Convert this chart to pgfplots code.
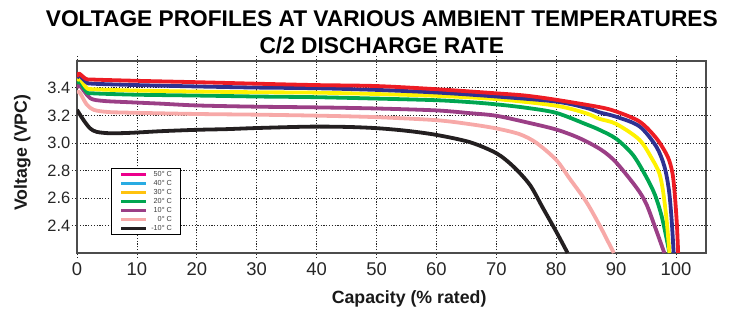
\documentclass[border=0pt]{standalone}
\usepackage{fontspec}
\setmainfont{Liberation Sans}
\usepackage{pgfplots}
\pgfplotsset{compat=1.18}
\definecolor{cRed}{HTML}{ED1C24}
\definecolor{cNavy}{HTML}{2E3192}
\definecolor{cYel}{HTML}{FFF200}
\definecolor{cGreen}{HTML}{00A651}
\definecolor{cPurp}{HTML}{9B3F86}
\definecolor{cPink}{HTML}{F7A9A8}
\definecolor{cBlack}{HTML}{231F20}
\definecolor{lMag}{HTML}{EC008C}
\definecolor{lCyan}{HTML}{29ABE2}
\definecolor{lYel}{HTML}{FFC20E}
\begin{document}
\begin{tikzpicture}
\useasboundingbox (-77bp,-57bp) rectangle (671bp,253bp);
\begin{axis}[
  width=629bp, height=192bp, scale only axis,
  xmin=0, xmax=105, ymin=2.2, ymax=3.595,
  xtick={0,10,20,30,40,50,60,70,80,90,100},
  ytick={2.4,2.6,2.8,3.0,3.2,3.4},
  grid=major,
  grid style={black!85, line width=0.7bp, dash pattern=on 1.2bp off 1.6bp},
  tick align=outside, major tick length=5bp,
  tick style={black!85, line width=0.7bp, dash pattern=on 1.2bp off 1.6bp},
  axis line style={black!70, line width=1.1bp},
  /pgf/number format/assume math mode=true,
  yticklabel style={font=\fontsize{16.5}{18}\selectfont, text=black!85, /pgf/number format/fixed, /pgf/number format/fixed zerofill, /pgf/number format/precision=1, /tikz/inner sep=1.5bp},
  xticklabel style={font=\fontsize{18.5}{20}\selectfont, text=black!85, /tikz/inner sep=1.5bp, /tikz/yshift=-2.5bp},
  xlabel={\textbf{Capacity (\% rated)}},
  ylabel={\textbf{Voltage (VPC)}},
  label style={font=\fontsize{17.8}{19}\selectfont, text=black!90},
  xlabel style={at={(axis description cs:0.528,-0.24)}, anchor=center},
  ylabel style={at={(axis description cs:-0.087,0.523)}, anchor=center},
  legend style={at={(0.0545,0.443)}, anchor=north west, draw=black, line width=0.8bp,
    font=\fontsize{7.3}{8}\selectfont, text=black!75,
    inner xsep=8bp, inner ysep=2bp, row sep=1.2bp, column sep=3bp,
    nodes={inner sep=0.8bp, text height=5bp, text depth=1.3bp}},
  legend cell align=right,
  legend image code/.code={\draw[#1] (0bp,0bp) -- (25bp,0bp);},
]
\addlegendimage{lMag, line width=2.8bp}\addlegendentry{50° C}
\addlegendimage{lCyan, line width=2.8bp}\addlegendentry{40° C}
\addlegendimage{lYel, line width=2.8bp}\addlegendentry{30° C}
\addlegendimage{cGreen, line width=2.8bp}\addlegendentry{20° C}
\addlegendimage{cPurp, line width=2.8bp}\addlegendentry{10° C}
\addlegendimage{cPink, line width=2.8bp}\addlegendentry{0° C}
\addlegendimage{cBlack, line width=2.8bp}\addlegendentry{-10° C}
% -10 C
\addplot[cBlack, forget plot, line width=3.8bp, line join=round, smooth, tension=0.5] coordinates {(0,3.24) (1.1,3.165) (2.2,3.105) (3.3,3.08) (5.5,3.07) (8.9,3.073) (14,3.085) (20,3.095) (25,3.10) (30,3.108) (38.9,3.118) (45,3.116) (50,3.107) (55,3.088) (60,3.058) (65.6,3.005) (70,2.925) (72.8,2.83) (75.6,2.695) (77.8,2.525) (80,2.355) (81.9,2.2)};
% 0 C
\addplot[cPink, forget plot, line width=3.8bp, line join=round, smooth, tension=0.5] coordinates {(0,3.36) (0.4,3.37) (1.6,3.28) (2.8,3.24) (5,3.225) (8.3,3.22) (20,3.21) (30,3.205) (40,3.198) (50,3.187) (60,3.165) (65.6,3.136) (70,3.105) (73.9,3.063) (76.7,3.0) (80,2.876) (82.2,2.743) (85,2.573) (87.5,2.38) (89.6,2.2)};
% 10 C
\addplot[cPurp, forget plot, line width=3.8bp, line join=round, smooth, tension=0.5] coordinates {(0,3.40) (0.5,3.415) (2.2,3.325) (4.4,3.305) (8.9,3.295) (14,3.285) (20,3.272) (30,3.263) (40,3.258) (50,3.25) (60,3.236) (65.6,3.216) (70,3.197) (75,3.15) (80,3.097) (83.9,3.034) (87.5,2.95) (90,2.858) (93.4,2.675) (95,2.56) (96.4,2.4) (98.05,2.2)};
% 20 C
\addplot[cGreen, forget plot, line width=3.8bp, line join=round, smooth, tension=0.5] coordinates {(0,3.43) (0.4,3.45) (1.6,3.37) (2.7,3.36) (10,3.35) (20,3.344) (30,3.337) (40,3.332) (50,3.322) (60,3.31) (65.6,3.296) (70,3.28) (75,3.255) (80,3.218) (85,3.135) (87.2,3.095) (90,3.03) (92.8,2.913) (95,2.755) (96.5,2.62) (97.7,2.45) (98.9,2.2)};
% 30 C
\addplot[cYel, forget plot, line width=3.8bp, line join=round, smooth, tension=0.5] coordinates {(0,3.45) (0.4,3.47) (1.6,3.40) (2.7,3.39) (10,3.38) (20,3.373) (30,3.368) (40,3.365) (50,3.355) (60,3.342) (70,3.318) (80,3.27) (85,3.215) (87.2,3.175) (90,3.138) (93.9,3.022) (96.1,2.876) (97.2,2.78) (97.8,2.658) (98.4,2.45) (98.9,2.2)};
% 40 C
\addplot[cNavy, forget plot, line width=3.8bp, line join=round, smooth, tension=0.5] coordinates {(0,3.47) (0.4,3.49) (1.6,3.44) (2.7,3.43) (10,3.42) (20,3.41) (30,3.402) (40,3.397) (50,3.385) (60,3.366) (70,3.337) (80,3.30) (85,3.255) (87.2,3.222) (90,3.19) (93.9,3.12) (96.7,2.973) (98.05,2.83) (98.8,2.66) (99.25,2.45) (99.6,2.2)};
% 50 C
\addplot[cRed, forget plot, line width=3.8bp, line join=round, smooth, tension=0.5] coordinates {(0,3.48) (0.3,3.505) (1.5,3.465) (2.7,3.46) (10,3.451) (20,3.441) (30,3.43) (40,3.42) (50,3.413) (60,3.39) (70,3.36) (75,3.343) (80,3.313) (87.2,3.26) (90,3.228) (93.9,3.155) (96.7,3.034) (98.6,2.90) (99.4,2.78) (99.8,2.62) (100.15,2.4) (100.35,2.2)};
\end{axis}
\node[anchor=base, font=\fontsize{22.8}{24}\selectfont\bfseries] at (304.8bp,226bp) {VOLTAGE PROFILES AT VARIOUS AMBIENT TEMPERATURES};
\node[anchor=base, font=\fontsize{22.8}{24}\selectfont\bfseries] at (304.8bp,199bp) {C/2 DISCHARGE RATE};
\end{tikzpicture}
\end{document}
